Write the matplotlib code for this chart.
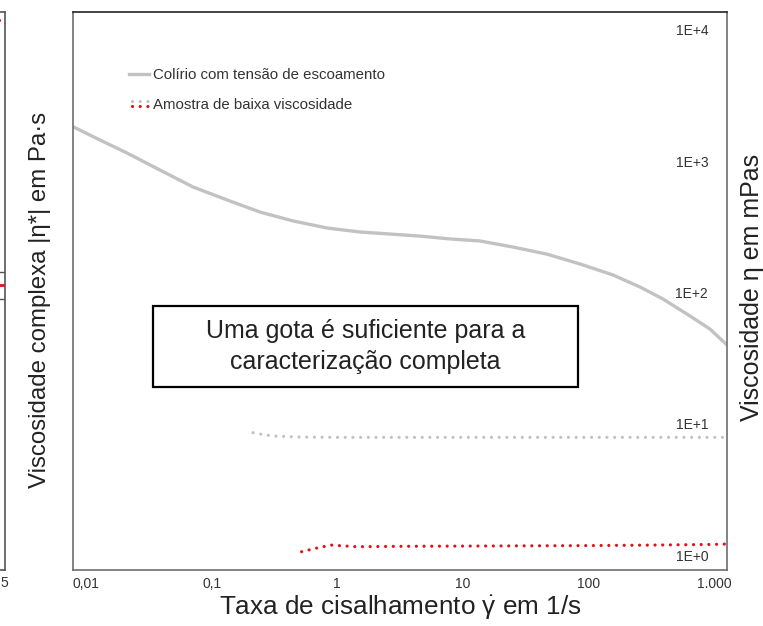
import matplotlib
matplotlib.use("Agg")
import matplotlib.pyplot as plt
from matplotlib.lines import Line2D
from matplotlib.patches import Rectangle
from matplotlib.legend_handler import HandlerBase
from matplotlib.ticker import FixedLocator, NullLocator

plt.rcParams['font.family'] = ['Liberation Sans', 'DejaVu Sans']
plt.rcParams['mathtext.fontset'] = 'custom'
plt.rcParams['mathtext.rm'] = 'Liberation Sans'
plt.rcParams['mathtext.it'] = 'Liberation Sans'

# Eye drops with yield stress: shear rate (1/s) vs viscosity
shear_colirio = [0.00788, 0.0129, 0.0212, 0.0388, 0.0711, 0.133, 0.243, 0.445,
                 0.83, 1.52, 2.63, 4.56, 7.91, 13.7, 25.1, 46.8, 85.7, 157,
                 258, 393, 644, 929, 1270]
visc_colirio = [1833, 1452, 1156, 857, 637, 507, 410, 351,
                310, 289, 279, 269, 256, 247, 222, 196, 165, 136,
                110, 89.2, 66.2, 52.7, 39.8]

# Low-viscosity sample (grey trace)
shear_amostra_cinza = [0.214, 0.26, 0.308, 0.5, 1, 3, 10, 30, 100, 300, 1000, 1270]
visc_amostra_cinza = [8.55, 8.25, 8.07, 7.92, 7.88, 7.88, 7.88, 7.88, 7.88, 7.88, 7.88, 7.88]

# Low-viscosity sample (red trace)
shear_amostra_verm = [0.521, 0.729, 0.904, 1.43, 3, 10, 30, 100, 300, 1000, 1270]
visc_amostra_verm = [1.06, 1.145, 1.19, 1.157, 1.165, 1.17, 1.175, 1.18, 1.19, 1.205, 1.213]

x_ticks = [0.01, 0.1, 1, 10, 100, 1000]
x_tick_labels = ['0,01', '0,1', '1', '10', '100', '1.000']
y_ticks = [1, 10, 100, 1000, 10000]
y_tick_labels = ['1E+0', '1E+1', '1E+2', '1E+3', '1E+4']

legend_labels = ['Colírio com tensão de escoamento', 'Amostra de baixa viscosidade']
box_text = 'Uma gota é suficiente para a\ncaracterização completa'

GREY = '#c2c2c2'
RED = '#e3101c'
TXT = '#222222'
W, H = 763, 626

fig = plt.figure(figsize=(W / 100, H / 100), dpi=100)
ax = fig.add_axes([73 / W, 56 / H, 654 / W, 558 / H])

ax.set_xscale('log')
ax.set_yscale('log')
ax.set_xlim(10 ** -2.1035, 10 ** 3.1035)
ax.set_ylim(10 ** -0.114, 10 ** 4.137)

dot_style = dict(lw=2.3, linestyle=(0, (0.01, 2.4)), dash_capstyle='round')

ax.plot(shear_colirio, visc_colirio, color=GREY, lw=2.4, solid_capstyle='butt',
        solid_joinstyle='round')
l_cinza, = ax.plot(shear_amostra_cinza, visc_amostra_cinza, color=GREY, **dot_style)
l_verm, = ax.plot(shear_amostra_verm, visc_amostra_verm, color=RED, **dot_style)

for side in ['left', 'right', 'bottom']:
    ax.spines[side].set_color('#6e6e6e')
    ax.spines[side].set_linewidth(1.2)
ax.spines['top'].set_color('#222222')
ax.spines['top'].set_linewidth(1.2)

ax.xaxis.set_major_locator(FixedLocator(x_ticks))
ax.xaxis.set_minor_locator(NullLocator())
ax.set_xticklabels(x_tick_labels)
ax.tick_params(axis='x', length=0, pad=5, labelsize=10, labelcolor='#333333')

ax.yaxis.tick_right()
ax.yaxis.set_major_locator(FixedLocator(y_ticks))
ax.yaxis.set_minor_locator(NullLocator())
ax.set_yticklabels(y_tick_labels)
ax.tick_params(axis='y', length=0, pad=-13.5, labelsize=10, labelcolor='#333333')
for t in ax.get_yticklabels():
    t.set_horizontalalignment('right')

ax.set_xlabel(r'Taxa de cisalhamento $\dot{\gamma}$ em 1/s', fontsize=18.8, color=TXT)
ax.xaxis.set_label_coords(0.5, -0.042)

fig.text(752 / W, 0.541, 'Viscosidade η em mPas', rotation=90,
         fontsize=18, color=TXT, ha='center', va='center')
fig.text(40 / W, 0.521, 'Viscosidade complexa |η*| em Pa·s', rotation=90,
         fontsize=17.3, color=TXT, ha='center', va='center')


class StackedDots(HandlerBase):
    def create_artists(self, legend, orig_handle, xdescent, ydescent,
                       width, height, fontsize, trans):
        arts = []
        for line, dy in zip(orig_handle, (0.22 * height, -0.22 * height)):
            yy = height / 2 - ydescent + dy
            a = Line2D([-xdescent + 2, -xdescent + width], [yy, yy],
                       color=line.get_color(), lw=2.3,
                       linestyle=(0, (0.01, 2.4)), dash_capstyle='round')
            a.set_transform(trans)
            arts.append(a)
        return arts


h1 = Line2D([], [], color=GREY, lw=2.4)
leg = ax.legend([h1, (l_cinza, l_verm)], legend_labels,
                handler_map={tuple: StackedDots()},
                loc='upper left', bbox_to_anchor=(0.0856, 0.900),
                frameon=False, fontsize=10.8, handlelength=1.34,
                handletextpad=0.27, labelspacing=1.05, borderpad=0, borderaxespad=0)
for t in leg.get_texts():
    t.set_color('#333333')

ax.add_patch(Rectangle((0.1223, 0.328), 0.650, 0.145, transform=ax.transAxes,
                       fill=False, edgecolor='black', lw=1.6, zorder=5))
ax.text(0.447, 0.4005, box_text, transform=ax.transAxes, ha='center', va='center',
        fontsize=18, color=TXT, linespacing=1.38, zorder=6)

# Edge of the neighbouring panel on the left
frag_x = [0.6, 1.0]
frag_top = [0.985, 0.985]
frag_mid = [0.511, 0.511]
axl = fig.add_axes([(5 - 200) / W, 56 / H, 200 / W, 558 / H])
axl.set_xlim(0, 1)
axl.set_ylim(0, 1)
axl.spines['left'].set_visible(False)
for side in ['right', 'bottom', 'top']:
    axl.spines[side].set_color('#555555')
    axl.spines[side].set_linewidth(1.2)
axl.plot(frag_x, frag_top, color=RED, **dot_style)
axl.plot(frag_x, frag_mid, color=RED, lw=2.0)
axl.axhline(0.534, color='#555555', lw=1.0)
axl.axhline(0.486, color='#555555', lw=1.0)
axl.set_xticks([])
axl.set_yticks([])
fig.text(0.5 / W, (626 - 583) / H, '5', fontsize=10, color='#333333',
         ha='left', va='center')

fig.savefig('out.png', dpi=100)
